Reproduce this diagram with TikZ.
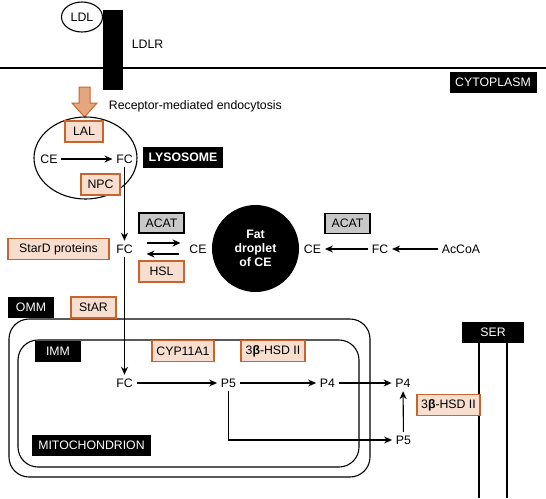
\documentclass[tikz,border=0pt]{standalone}
\usepackage{fontspec}
\setmainfont{Liberation Sans}
\usepackage{tikz}
\usetikzlibrary{arrows.meta, shapes.geometric}
\definecolor{enzymeline}{RGB}{200,100,45}
\definecolor{enzymefill}{RGB}{247,222,206}
\definecolor{uptakefill}{RGB}{228,166,126}
\definecolor{acatgray}{RGB}{200,200,200}

\begin{document}
\begin{tikzpicture}[x=1pt, y=-1pt, line width=1.1pt,
  font=\fontsize{12.3}{14}\selectfont,
  >={Stealth[length=8pt,width=7pt]},
  enzyme/.style={draw=enzymeline, fill=enzymefill, line width=1.3pt, minimum height=21pt, inner xsep=3pt},
  graybox/.style={draw, fill=acatgray, line width=1.3pt, minimum height=20pt, minimum width=45pt, inner xsep=3pt},
  tag/.style={fill=black, text=white, minimum height=21pt, inner xsep=3pt}]
  \useasboundingbox (0,0) rectangle (546,498);
  % membrane and receptor
  \draw[line width=1.6pt] (0,68) -- (546,68);
  \node[ellipse, draw, minimum width=41pt, minimum height=30pt, inner sep=0pt] (ldl) at (82,17) {LDL};
  \fill (103,10) rectangle (123,90);
  \node[anchor=west] (ldlr) at (128,44) {LDLR};
  \node[tag, minimum width=87pt] (cytoplasm) at (493,82.5) {CYTOPLASM};
  \fill[uptakefill, draw=enzymeline, line width=1pt]
    (79,87) -- (90,87) -- (90,103) -- (97,103) -- (84.5,117) -- (72,103) -- (79,103) -- cycle;
  \node[anchor=west] (endo) at (105,106) {Receptor-mediated endocytosis};
  % lysosome
  \draw (85.5,158) ellipse [x radius=51.5pt, y radius=41pt];
  \node[enzyme, minimum width=38pt] (lal) at (84,131.5) {LAL};
  \node (ce1) at (49,159) {CE};
  \node (fc1) at (124.5,159) {FC};
  \node[enzyme, minimum width=39pt] (npc) at (100.5,184.5) {NPC};
  \node[tag, minimum width=80pt, font=\fontsize{12.3}{14}\selectfont\bfseries] (lysosome) at (183,157.5) {LYSOSOME};
  \draw[->] (ce1) -- (fc1);
  % cytoplasmic pool
  \node (fc2) at (124.5,249) {FC};
  \node (ce2) at (198,249) {CE};
  \node[enzyme, minimum width=101pt] (stard) at (58.5,249) {StarD proteins};
  \node[graybox] (acat1) at (161.5,223) {ACAT};
  \node[enzyme, minimum width=45pt] (hsl) at (161.5,271.5) {HSL};
  \node[circle, fill=black, text=white, minimum size=87pt, align=center,
    font=\fontsize{12.3}{14}\selectfont\bfseries] (droplet) at (255.5,248.5) {Fat\\droplet\\of CE};
  \node (ce3) at (312.5,249) {CE};
  \node (fc4) at (380,249) {FC};
  \node (accoa) at (461,249) {AcCoA};
  \node[graybox] (acat2) at (347.5,223.5) {ACAT};
  \draw[->] (fc1) -- (fc2);
  \draw[->] ([xshift=10pt,yshift=6pt]fc2.east) -- ([xshift=-5pt,yshift=6pt]ce2.west);
  \draw[->] ([xshift=-7pt,yshift=-5pt]ce2.west) -- ([xshift=10pt,yshift=-5pt]fc2.east);
  \draw[->] (fc4) -- (ce3);
  \draw[->] (accoa) -- (fc4);
  % mitochondrion
  \draw[rounded corners=20pt] (9,319) rectangle (370,477);
  \draw[rounded corners=20pt] (18,340) rectangle (359,467);
  \node[tag, minimum width=46pt] (omm) at (31,307.5) {OMM};
  \node[enzyme, minimum width=45pt] (star) at (93.5,307.5) {StAR};
  \node[tag, minimum width=46pt] (imm) at (58,351.5) {IMM};
  \node[enzyme, minimum width=62pt] (cyp) at (183,351) {CYP11A1};
  \node[enzyme, minimum width=64pt] (hsd1) at (273,351) {3\textbf{β}-HSD II};
  \node[tag, minimum width=119pt] (mito) at (91.5,445.5) {MITOCHONDRION};
  \node (fc3) at (124.5,383) {FC};
  \node (p5a) at (228.5,383) {P5};
  \node (p4a) at (327.5,383) {P4};
  \node (p4b) at (403,383) {P4};
  \node (p5b) at (403.5,440) {P5};
  \draw[->] (fc2) -- (fc3);
  \draw[->] (fc3) -- (p5a);
  \draw[->] (p5a) -- (p4a);
  \draw[->] (p4a) -- (p4b);
  \draw[->] (p5a.south) |- (p5b.west);
  \draw[->] (p5b) -- (p4b);
  % smooth ER
  \draw[line width=1.6pt] (479,343) -- (479,498);
  \draw[line width=1.6pt] (507,343) -- (507,498);
  \node[tag, minimum width=62pt] (ser) at (493,332) {SER};
  \node[enzyme, minimum width=63pt] (hsd2) at (448.5,405) {3\textbf{β}-HSD II};
\end{tikzpicture}
\end{document}
